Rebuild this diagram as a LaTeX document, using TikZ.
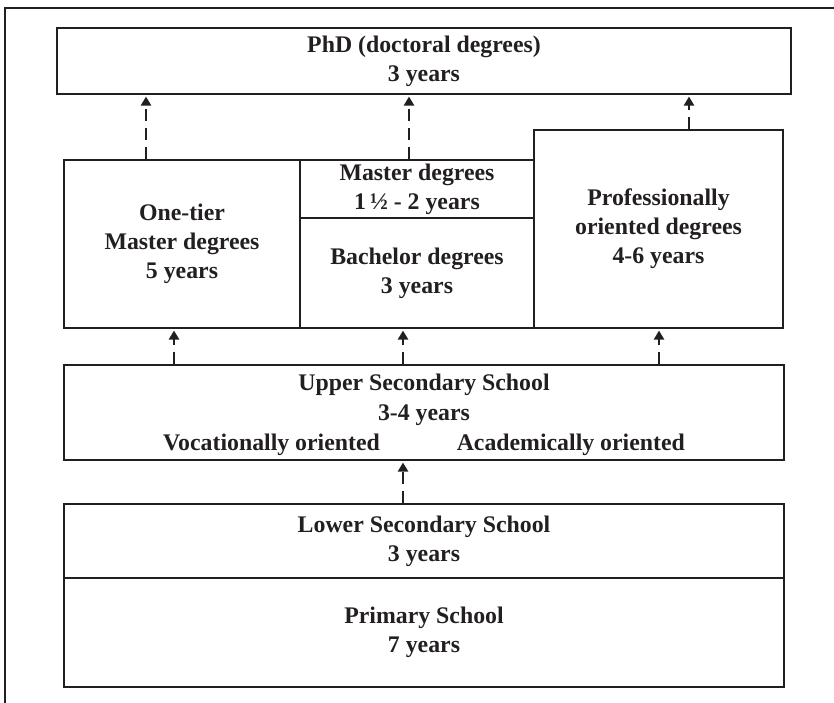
\documentclass[tikz,border=0pt]{standalone}
\usepackage{fontspec}
\setmainfont{Liberation Serif}
\usetikzlibrary{arrows.meta}
\definecolor{ink}{RGB}{35,31,32}

\begin{document}
\begin{tikzpicture}[x=1pt,y=-1pt,
  txt/.style={text=ink, inner sep=0pt, align=center,
    font=\fontsize{23.8}{29}\selectfont\bfseries},
  box/.style={txt, draw=ink, line width=2.7pt},
  uparrow/.style={draw=ink, line width=2.7pt, dash pattern=on 12pt off 7pt,
    -{Triangle[width=10pt,length=9pt]}, shorten >=1.2pt}
]
\useasboundingbox (0,0) rectangle (834,703);

% outer frame (only its top and left edges fall on the page)
\draw[ink, line width=2.4pt] (5,720) -- (5,8) -- (850,8);

% boxes
\node[box, minimum width=734pt, minimum height=66pt] (phd) at (424,61)
  {PhD (doctoral degrees)\\3 years};
\node[box, minimum width=236pt, minimum height=168pt] (onetier) at (182,244)
  {One-tier\\Master degrees\\5 years};
\node[box, minimum width=234pt, minimum height=58pt] (master) at (417,189)
  {Master degrees\\1\,½ - 2 years};
\node[box, minimum width=234pt, minimum height=110pt] (bachelor) at (417,273)
  {Bachelor degrees\\3 years};
\node[box, minimum width=249pt, minimum height=198pt] (prof) at (658.5,229)
  {Professionally\\oriented degrees\\4-6 years};
\node[box, minimum width=720pt, minimum height=95pt] (upper) at (424,412.5) {};
\node[txt, anchor=base] (upperA) at (424,390) {Upper Secondary School};
\node[txt, anchor=base] (upperB) at (424,420) {3-4 years};
\node[txt, anchor=base west] (voc) at (163,450) {Vocationally oriented};
\node[txt, anchor=base east] (acad) at (685,450) {Academically oriented};
\node[box, minimum width=720pt, minimum height=74pt] (lower) at (424,541)
  {Lower Secondary School\\3 years};
\node[box, minimum width=720pt, minimum height=109pt] (primary) at (424,632.5)
  {Primary School\\7 years};

% columns of the connectors
\coordinate (c1) at (146,0);
\coordinate (c2) at (409,0);
\coordinate (c3) at (689,0);
\coordinate (d1) at (174,0);
\coordinate (d2) at (403,0);
\coordinate (d3) at (659,0);

% connectors
\draw[uparrow] (c1 |- onetier.north) -- (c1 |- phd.south);
\draw[uparrow] (c2 |- master.north) -- (c2 |- phd.south);
\draw[uparrow] (c3 |- prof.north) -- (c3 |- phd.south);
\draw[uparrow] (d1 |- upper.north) -- (d1 |- onetier.south);
\draw[uparrow] (d2 |- upper.north) -- (d2 |- bachelor.south);
\draw[uparrow] (d3 |- upper.north) -- (d3 |- prof.south);
\draw[uparrow] (d2 |- lower.north) -- (d2 |- upper.south);
\end{tikzpicture}
\end{document}
